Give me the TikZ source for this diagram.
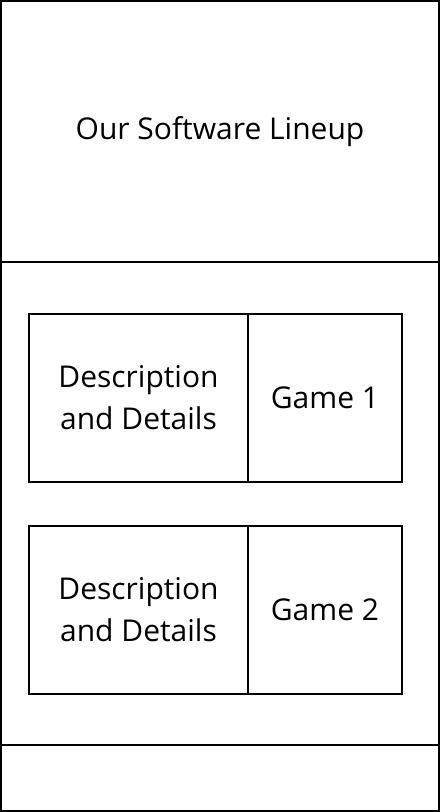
\documentclass[tikz,border=0pt]{standalone}
\usepackage{fontspec}
\setmainfont{Open Sans}
\usetikzlibrary{positioning}
\tikzstyle{frame}=[draw, line width=1.5pt, inner sep=0pt, outer sep=0pt, minimum width=438pt, anchor=north west]
\tikzstyle{cell}=[draw, line width=1.5pt, inner sep=0pt, outer sep=0pt, minimum height=168pt, align=center, font=\fontsize{30}{42}\selectfont]

\begin{document}
\begin{tikzpicture}[x=1pt, y=-1pt]
    \useasboundingbox (0,0) rectangle (440,812);
    \node [frame, minimum height=261pt, font=\fontsize{30}{42}\selectfont](header) at (1,1) {Our Software Lineup};
    \node [frame, minimum height=483pt, below=0pt of header.south west, anchor=north west](body) {};
    \node [frame, minimum height=66pt, below=0pt of body.south west, anchor=north west](footer) {};

    \node [cell, minimum width=219pt, anchor=north west](desc1) at (29,314) {Description\\and Details};
    \node [cell, minimum width=154pt, right=0pt of desc1](game1) {Game 1};
    \node [cell, minimum width=219pt, below=44pt of desc1](desc2) {Description\\and Details};
    \node [cell, minimum width=154pt, right=0pt of desc2](game2) {Game 2};
\end{tikzpicture}
\end{document}
